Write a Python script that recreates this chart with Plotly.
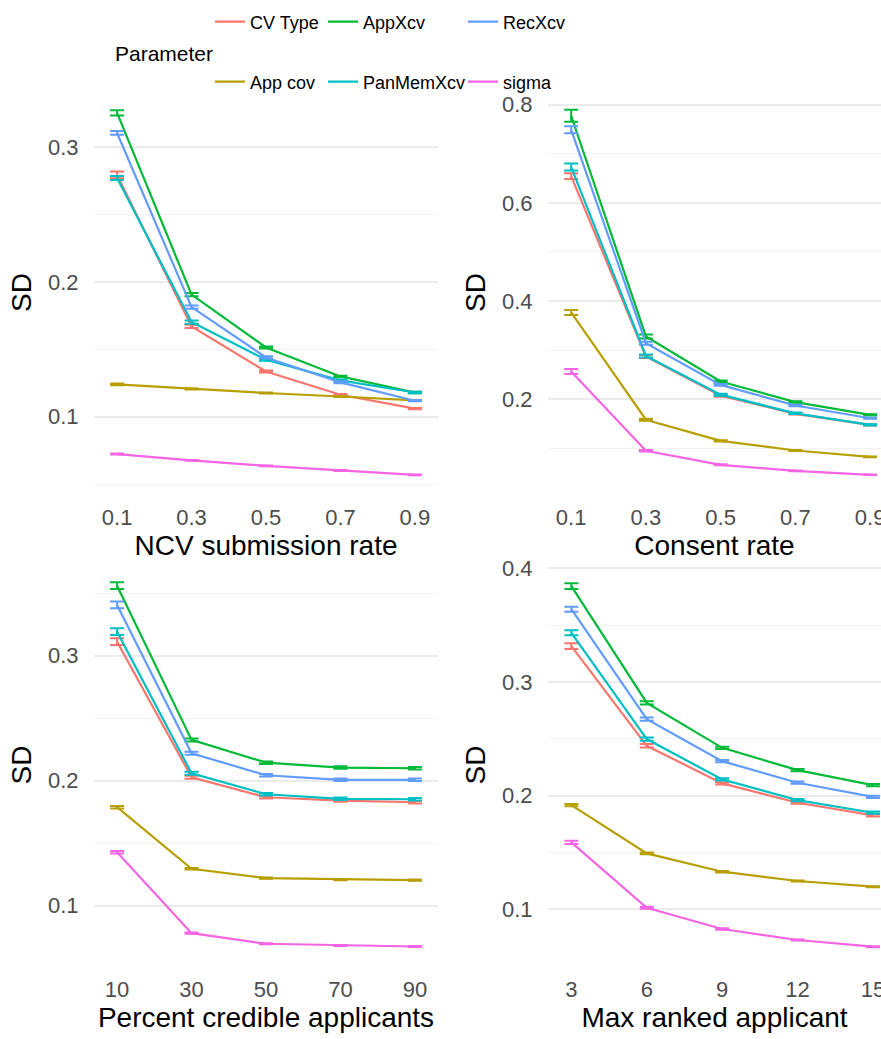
import plotly.graph_objects as go

W, H = 881, 1039

params = ["CV Type", "App cov", "AppXcv", "PanMemXcv", "RecXcv", "sigma"]
colors = ["#F8766D", "#B79F00", "#00BA38", "#00BFC4", "#619CFF", "#F564E3"]

# x values per panel
x_ncv = [0.1, 0.3, 0.5, 0.7, 0.9]
x_consent = [0.1, 0.3, 0.5, 0.7, 0.9]
x_credible = [10, 30, 50, 70, 90]
x_maxrank = [3, 6, 9, 12, 15]

# SD values, rows in order of params
sd_ncv = [
    [0.2795, 0.167, 0.1336, 0.1163, 0.106],
    [0.124, 0.1206, 0.1176, 0.115, 0.1121],
    [0.3255, 0.1906, 0.1514, 0.1299, 0.118],
    [0.2772, 0.1703, 0.1423, 0.127, 0.118],
    [0.3106, 0.1814, 0.144, 0.1255, 0.1119],
    [0.0723, 0.0676, 0.0636, 0.0601, 0.0569],
]
err_ncv = [
    [0.0025, 0.0012, 0.0008, 0.0006, 0.0005],
    [0.0006, 0.0004, 0.0004, 0.0004, 0.0003],
    [0.002, 0.0012, 0.0008, 0.0006, 0.0005],
    [0.0015, 0.0012, 0.0008, 0.0006, 0.0005],
    [0.0014, 0.0012, 0.0008, 0.0006, 0.0005],
    [0.0004, 0.0003, 0.0003, 0.0003, 0.0003],
]

sd_consent = [
    [0.6546, 0.287, 0.207, 0.17, 0.1476],
    [0.3766, 0.158, 0.115, 0.0952, 0.0824],
    [0.7776, 0.3277, 0.2359, 0.1939, 0.168],
    [0.673, 0.288, 0.209, 0.171, 0.1476],
    [0.749, 0.314, 0.229, 0.187, 0.161],
    [0.2563, 0.0946, 0.066, 0.0538, 0.0457],
]
err_consent = [
    [0.006, 0.003, 0.002, 0.0015, 0.0012],
    [0.005, 0.002, 0.0012, 0.001, 0.0008],
    [0.012, 0.004, 0.002, 0.0015, 0.0012],
    [0.007, 0.003, 0.002, 0.0015, 0.0012],
    [0.007, 0.003, 0.002, 0.0015, 0.0012],
    [0.005, 0.0015, 0.001, 0.0008, 0.0006],
]

sd_credible = [
    [0.3112, 0.2027, 0.1867, 0.184, 0.1827],
    [0.1787, 0.1294, 0.1219, 0.1208, 0.1203],
    [0.356, 0.2326, 0.2144, 0.2104, 0.2099],
    [0.3192, 0.2059, 0.1891, 0.1854, 0.1851],
    [0.3406, 0.2219, 0.2043, 0.2006, 0.2006],
    [0.1427, 0.0779, 0.0694, 0.068, 0.0672],
]
err_credible = [
    [0.0027, 0.0012, 0.001, 0.001, 0.001],
    [0.001, 0.0006, 0.0005, 0.0005, 0.0005],
    [0.0027, 0.0012, 0.001, 0.001, 0.001],
    [0.0027, 0.0012, 0.001, 0.001, 0.001],
    [0.0027, 0.0012, 0.001, 0.001, 0.001],
    [0.001, 0.0005, 0.0004, 0.0004, 0.0004],
]

sd_maxrank = [
    [0.3316, 0.2439, 0.2108, 0.1938, 0.1827],
    [0.1917, 0.1492, 0.1331, 0.1249, 0.1199],
    [0.3844, 0.2817, 0.2421, 0.2225, 0.2093],
    [0.3433, 0.2498, 0.2143, 0.1961, 0.185],
    [0.3641, 0.2674, 0.2304, 0.2114, 0.199],
    [0.1589, 0.1014, 0.0827, 0.073, 0.0671],
]
err_maxrank = [
    [0.0025, 0.0015, 0.001, 0.001, 0.001],
    [0.001, 0.0008, 0.0006, 0.0005, 0.0005],
    [0.0025, 0.0015, 0.001, 0.001, 0.001],
    [0.0022, 0.0015, 0.001, 0.001, 0.001],
    [0.0022, 0.0015, 0.001, 0.001, 0.001],
    [0.0015, 0.0008, 0.0006, 0.0005, 0.0005],
]

x_titles = ["NCV submission rate", "Consent rate", "Percent credible applicants", "Max ranked applicant"]

panels = [
    (x_ncv, sd_ncv, err_ncv, "x", "y"),
    (x_consent, sd_consent, err_consent, "x2", "y2"),
    (x_credible, sd_credible, err_credible, "x3", "y3"),
    (x_maxrank, sd_maxrank, err_maxrank, "x4", "y4"),
]

legend_ids = {"CV Type": "legend", "AppXcv": "legend2", "RecXcv": "legend3",
              "App cov": "legend4", "PanMemXcv": "legend5", "sigma": "legend6"}

fig = go.Figure()
for pi, (xs, sds, errs, xa, ya) in enumerate(panels):
    for k, name in enumerate(params):
        fig.add_trace(go.Scatter(
            x=xs, y=sds[k], mode="lines", name=name,
            line=dict(color=colors[k], width=2.2),
            error_y=dict(type="data", array=errs[k], color=colors[k], thickness=2, width=7),
            xaxis=xa, yaxis=ya,
            legend=legend_ids[name], showlegend=(pi == 0),
        ))

FONT = "Liberation Sans, Arial, sans-serif"
tickfont = dict(family=FONT, size=22, color="#4D4D4D")
titlefont = dict(family=FONT, size=28, color="black")

def px_x(a, b):
    return [a / W, min(b / W, 1.0)]

def px_y(top, bottom):
    return [1 - bottom / H, 1 - top / H]

def xaxis(dom, rng, ticks, title, anchor):
    return dict(domain=dom, range=rng, tickvals=ticks, anchor=anchor, showgrid=False, zeroline=False,
                showline=False, ticks="outside", ticklen=5, tickcolor="rgba(0,0,0,0)",
                ticklabeloverflow="allow",
                tickfont=tickfont, title=dict(text=title, font=titlefont, standoff=5))

def yaxis(dom, rng, dtick, minor, anchor):
    return dict(domain=dom, range=rng, dtick=dtick, tick0=0, anchor=anchor, showgrid=True,
                gridcolor="#EBEBEB", gridwidth=1.6, zeroline=False, showline=False,
                ticks="outside", ticklen=10, tickcolor="rgba(0,0,0,0)",
                tickfont=tickfont, title=dict(text="SD", font=titlefont, standoff=8),
                minor=dict(dtick=minor, tick0=0, showgrid=True, gridcolor="#F2F2F2", gridwidth=1.1))

legend_common = dict(orientation="h", font=dict(family=FONT, size=18, color="black"),
                     bgcolor="rgba(0,0,0,0)", xanchor="left", yanchor="middle", itemclick=False)
leg_pos = {"legend": (215, 22), "legend2": (328, 22), "legend3": (468, 22),
           "legend4": (215, 82), "legend5": (328, 82), "legend6": (468, 82)}
legends = {}
for lid, (lx, ly) in leg_pos.items():
    legends[lid] = dict(legend_common, x=(lx - 5) / W, y=1 - ly / H)

fig.update_layout(
    width=W, height=H, margin=dict(l=0, r=0, t=0, b=0, autoexpand=False),
    plot_bgcolor="white", paper_bgcolor="white",
    font=dict(family=FONT),
    xaxis=xaxis(px_x(94, 438), [0.038, 0.962], x_ncv, x_titles[0], "y"),
    xaxis2=xaxis(px_x(548, 881), [0.038, 0.929], x_consent, x_titles[1], "y2"),
    xaxis3=xaxis(px_x(94, 438), [3.8, 96.2], x_credible, x_titles[2], "y3"),
    xaxis4=xaxis(px_x(548, 881), [2.07, 15.32], x_maxrank, x_titles[3], "y4"),
    yaxis=yaxis(px_y(92, 493), [0.0434, 0.341], 0.1, 0.05, "x"),
    yaxis2=yaxis(px_y(92, 493), [0.0086, 0.826], 0.2, 0.1, "x2"),
    yaxis3=yaxis(px_y(565, 965), [0.0524, 0.3726], 0.1, 0.05, "x3"),
    yaxis4=yaxis(px_y(565, 965), [0.051, 0.403], 0.1, 0.05, "x4"),
    annotations=[dict(text="Parameter", x=113 / W, y=1 - 53 / H, xref="paper", yref="paper",
                      xanchor="left", yanchor="middle", showarrow=False,
                      font=dict(family=FONT, size=21, color="black"))],
    **legends,
)

fig.write_html("out.html")
